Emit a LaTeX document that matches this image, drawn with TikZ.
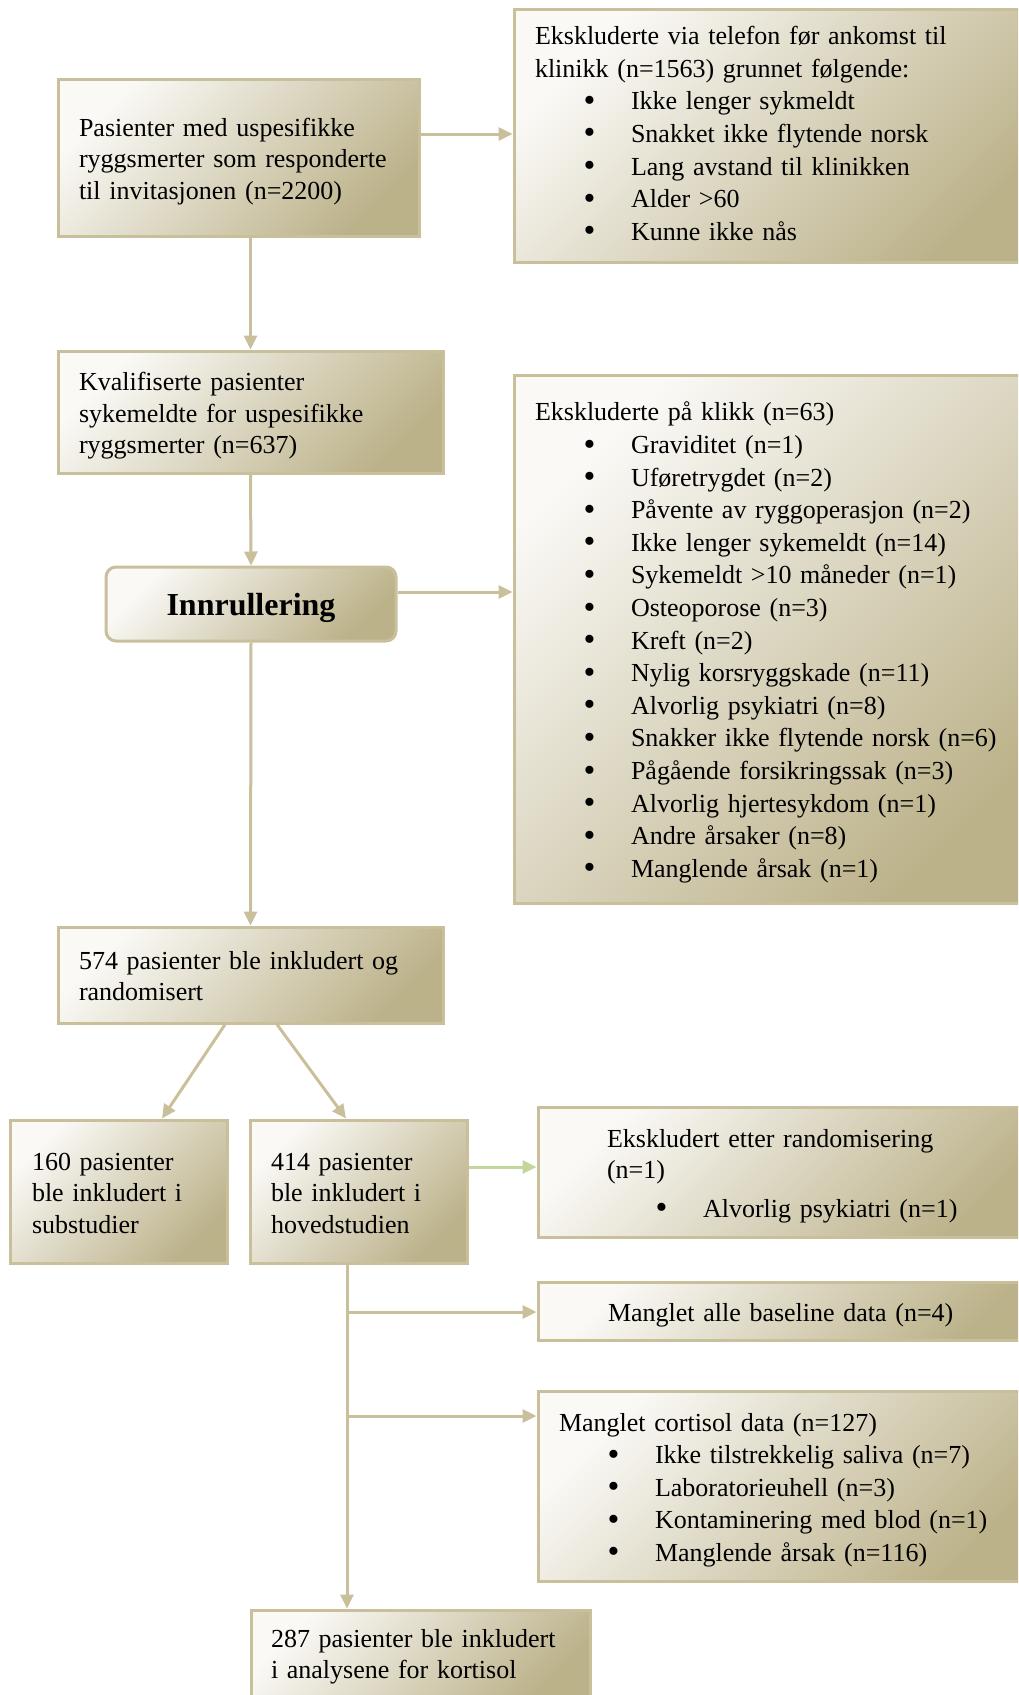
\documentclass[tikz,border=0pt]{standalone}
\usepackage{fontspec}
\setmainfont{Liberation Serif}
\usetikzlibrary{arrows.meta}
\definecolor{tanline}{RGB}{201,192,155}
\definecolor{tandark}{RGB}{188,178,138}
\definecolor{tanlight}{RGB}{250,249,246}
\definecolor{greenline}{RGB}{195,214,155}
\newcommand{\itm}[1]{\makebox[96pt][l]{\hspace*{48.5pt}\raisebox{-1.5pt}{\scalebox{1.3}{•}}}#1}
\newcommand{\topstrut}{\rule{0pt}{1em}}
\newcommand{\botstrut}{\rule[-0.216em]{0pt}{0pt}}
\begin{document}
\begin{tikzpicture}[x=1pt,y=-1pt,
  boxbase/.style={draw=tanline, line width=3pt, top color=tanlight, bottom color=tandark,
    shading angle=45, inner ysep=0pt, align=left, anchor=center},
  box/.style={boxbase, execute at begin node=\topstrut, execute at end node=\botstrut},
  lfont/.style={font=\fontsize{26}{31.5}\selectfont},
  rfont/.style={font=\fontsize{26}{32.6}\selectfont},
  arr/.style={draw=tanline, line width=3pt, -{Triangle[length=14pt,width=13pt]}},
  garr/.style={draw=greenline, line width=3pt, -{Triangle[length=14pt,width=13pt]}}]
\useasboundingbox (0,0) rectangle (1018,1695);
\clip (0,0) rectangle (1018,1695);

\node[box, lfont, minimum width=361pt, minimum height=157pt, inner xsep=21pt, text width=319pt] (box1) at (238.5,157.5)
  {Pasienter med uspesifikke\\ryggsmerter som responderte\\til invitasjonen (n=2200)};

\node[boxbase, rfont, minimum width=526pt, minimum height=253pt, inner xsep=21pt, text width=484pt,
  execute at end node={\rule[-4.4pt]{0pt}{0pt}}] (right1) at (777,135.5)
  {Ekskluderte via telefon før ankomst til\\klinikk (n=1563) grunnet følgende:\\
   \itm{Ikke lenger sykmeldt}\\
   \itm{Snakket ikke flytende norsk}\\
   \itm{Lang avstand til klinikken}\\
   \itm{Alder >60}\\
   \itm{Kunne ikke nås}};

\node[box, lfont, minimum width=385pt, minimum height=122pt, inner xsep=21pt, text width=343pt] (box2) at (250.5,412)
  {Kvalifiserte pasienter\\sykemeldte for uspesifikke\\ryggsmerter (n=637)};

\node[boxbase, rounded corners=10pt, minimum width=290pt, minimum height=74pt, align=center,
  text depth=0pt, font=\fontsize{32}{38}\selectfont\bfseries] (inn) at (251,604) {Innrullering};

\node[box, rfont, minimum width=526pt, minimum height=528pt, inner xsep=21pt, text width=484pt] (right2) at (777,639)
  {Ekskluderte på klikk (n=63)\\
   \itm{Graviditet (n=1)}\\
   \itm{Uføretrygdet (n=2)}\\
   \itm{Påvente av ryggoperasjon (n=2)}\\
   \itm{Ikke lenger sykemeldt (n=14)}\\
   \itm{Sykemeldt >10 måneder (n=1)}\\
   \itm{Osteoporose (n=3)}\\
   \itm{Kreft (n=2)}\\
   \itm{Nylig korsryggskade (n=11)}\\
   \itm{Alvorlig psykiatri (n=8)}\\
   \itm{Snakker ikke flytende norsk (n=6)}\\
   \itm{Pågående forsikringssak (n=3)}\\
   \itm{Alvorlig hjertesykdom (n=1)}\\
   \itm{Andre årsaker (n=8)}\\
   \itm{Manglende årsak (n=1)}};

\node[box, lfont, minimum width=385pt, minimum height=96pt, inner xsep=21pt, text width=343pt] (b574) at (250.5,975)
  {574 pasienter ble inkludert og\\randomisert};

\node[box, lfont, minimum width=217pt, minimum height=143pt, inner xsep=22pt, text width=173pt] (b160) at (118.5,1191.5)
  {160 pasienter\\ble inkludert i\\substudier};

\node[box, lfont, minimum width=217pt, minimum height=143pt, inner xsep=21pt, text width=175pt] (b414) at (358.5,1191.5)
  {414 pasienter\\ble inkludert i\\hovedstudien};

\node[box, lfont, minimum width=502pt, minimum height=130pt, inner xsep=69pt, text width=364pt] (right3) at (789,1172)
  {Ekskludert etter randomisering\\(n=1)\\[7pt]\itm{Alvorlig psykiatri (n=1)}};

\node[box, lfont, minimum width=502pt, minimum height=58pt, inner xsep=70pt, text width=362pt] (base) at (789,1311)
  {Manglet alle baseline data (n=4)};

\node[box, rfont, minimum width=502pt, minimum height=190pt, inner xsep=21pt, text width=460pt] (cort) at (789,1486)
  {Manglet cortisol data (n=127)\\
   \itm{Ikke tilstrekkelig saliva (n=7)}\\
   \itm{Laboratorieuhell (n=3)}\\
   \itm{Kontaminering med blod (n=1)}\\
   \itm{Manglende årsak (n=116)}};

\node[box, lfont, minimum width=339pt, minimum height=92pt, inner xsep=20pt, text width=299pt,
  execute at end node={\botstrut\rule[-12pt]{0pt}{0pt}}] (b287) at (420.5,1656)
  {287 pasienter ble inkludert\\i analysene for kortisol};

\coordinate (j1) at (347,1312);
\coordinate (j2) at (347,1416);

\draw[arr] (box1.east |- 0,134) -- (right1.west |- 0,134);
\draw[arr] (box1.south -| box2.north) -- (box2.north);
\draw[arr] (box2.south) -- (inn.north);
\draw[arr] (inn.east |- 0,592) -- (right2.west |- 0,592);
\draw[arr] (inn.south) -- (b574.north);
\draw[arr] (b574.south -| 225,0) -- (b160.north -| 162,0);
\draw[arr] (b574.south -| 277,0) -- (b414.north -| 346,0);
\draw[garr] (b414.east |- 0,1167) -- (right3.west |- 0,1167);
\draw[arr] (b414.south -| 347,0) -- (b287.north -| 347,0);
\draw[arr] (j1) -- (base.west |- j1);
\draw[arr] (j2) -- (cort.west |- j2);
\end{tikzpicture}
\end{document}
